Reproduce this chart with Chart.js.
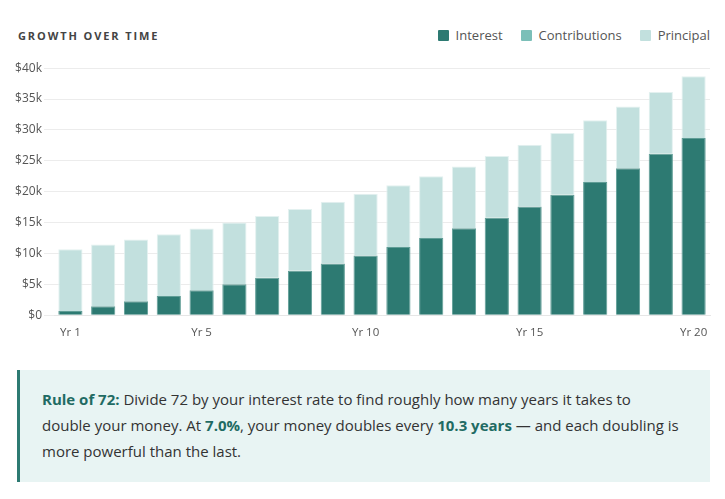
<!DOCTYPE html>
<html><head><meta charset="utf-8">
<script src="https://cdn.jsdelivr.net/npm/chart.js@4.4.1/dist/chart.umd.min.js"></script>
<style>
html,body{margin:0;padding:0;background:#fff;width:725px;height:499px;overflow:hidden;font-family:"Open Sans",Lato,sans-serif;}
#hdr{position:absolute;left:18px;top:26px;width:692px;height:20px;}
#title{position:absolute;left:0;top:2px;font-size:11px;font-weight:700;letter-spacing:1.9px;color:#444;}
#legend{position:absolute;right:0;top:0;font-size:13px;color:#555;display:flex;gap:18px;}
#legend span.item{display:flex;align-items:center;}
#legend i{display:inline-block;width:11px;height:11px;margin-right:7px;border-radius:1px;}
#wrap{position:absolute;left:0;top:59px;width:725px;height:284px;}
#box{position:absolute;left:17px;top:370px;width:693px;height:112px;background:#e8f4f3;border-left:3px solid #2d7a72;box-sizing:border-box;padding:16px 0 0 22px;font-size:15px;line-height:26px;color:#333;white-space:nowrap;}
#box b{color:#1f6b63;}
</style></head><body>
<div id="hdr"><div id="title">GROWTH OVER TIME</div><div id="legend"></div></div>
<div id="wrap"><canvas id="c" width="725" height="284"></canvas></div>
<div id="box"><b>Rule of 72:</b> Divide 72 by your interest rate to find roughly how many years it takes to<br>double your money. At <b>7.0%</b>, your money doubles every <b>10.3 years</b> — and each doubling is<br>more powerful than the last.</div>
<script>
const categories = ["Yr 1","Yr 2","Yr 3","Yr 4","Yr 5","Yr 6","Yr 7","Yr 8","Yr 9","Yr 10","Yr 11","Yr 12","Yr 13","Yr 14","Yr 15","Yr 16","Yr 17","Yr 18","Yr 19","Yr 20"];
const interest = [700,1449,2250,3108,4026,5007,6058,7182,8385,9672,11049,12522,14098,15785,17590,19522,21588,23799,26165,28697];
const contributions = [0,0,0,0,0,0,0,0,0,0,0,0,0,0,0,0,0,0,0,0];
const principal = [10000,10000,10000,10000,10000,10000,10000,10000,10000,10000,10000,10000,10000,10000,10000,10000,10000,10000,10000,10000];
const shownTicks = ["Yr 1","Yr 5","Yr 10","Yr 15","Yr 20"];
const yTicks = [0,5000,10000,15000,20000,25000,30000,35000,40000];

const series = [
  {label:"Interest", data:interest, color:"#2d7a72", border:"#5f9d96"},
  {label:"Contributions", data:contributions, color:"#7bbfb8", border:"#a4d3ce"},
  {label:"Principal", data:principal, color:"#c2e0de", border:"#e3f1f0"}
];
const lg = document.getElementById('legend');
series.forEach(s=>{const el=document.createElement('span');el.className='item';el.innerHTML='<i style="background:'+s.color+'"></i>'+s.label;lg.appendChild(el);});

new Chart(document.getElementById('c'),{
  type:'bar',
  data:{labels:categories,datasets:series.map(s=>({label:s.label,data:s.data,backgroundColor:s.color,borderColor:s.border,borderWidth:1,barPercentage:0.82,categoryPercentage:0.9}))},
  options:{
    responsive:false,animation:false,
    layout:{padding:{left:0,right:15,top:5,bottom:0}},
    plugins:{legend:{display:false},tooltip:{enabled:false}},
    scales:{
      x:{stacked:true,grid:{display:false},border:{display:true,color:'#e6e6e6'},
        ticks:{autoSkip:false,maxRotation:0,color:'#555',font:{family:'"Open Sans"',size:11.5},padding:3,
          callback:function(v){const l=categories[v];return shownTicks.includes(l)?l:'';}}},
      y:{stacked:true,min:0,max:40000,
        afterFit:(ax)=>{ax.width=54;},
        afterBuildTicks:(ax)=>{ax.ticks=yTicks.map(v=>({value:v}));},
        grid:{color:'#ececec',tickLength:10},border:{display:false},
        ticks:{color:'#555',font:{family:'"Open Sans"',size:12},padding:2,
          callback:v=>v===0?'$0':'$'+(v/1000)+'k'}}
    }
  }
});
</script>
</body></html>
